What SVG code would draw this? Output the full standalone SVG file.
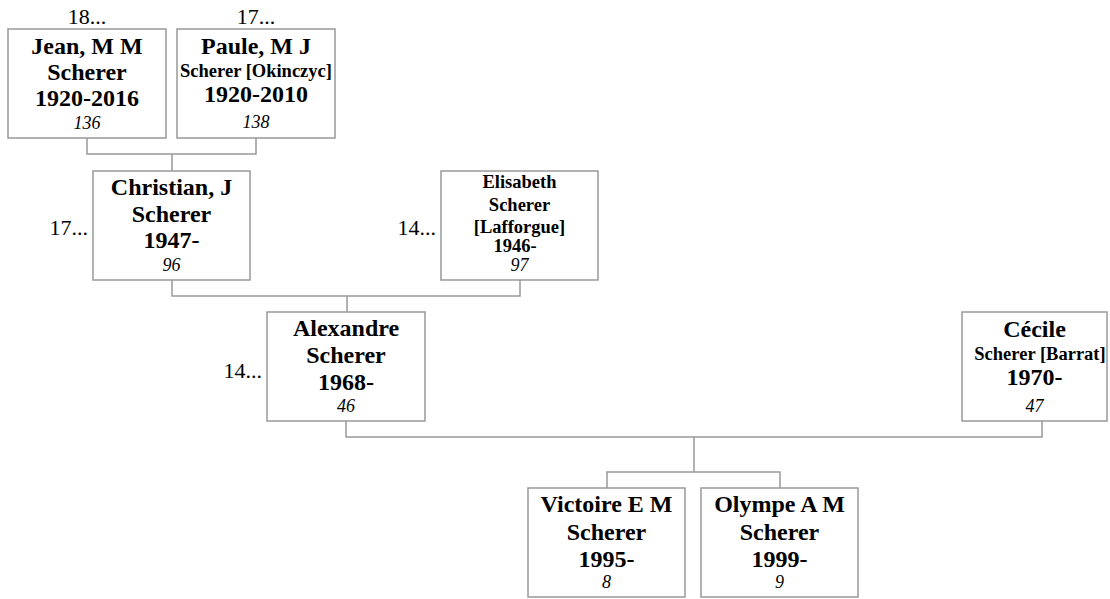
<svg xmlns="http://www.w3.org/2000/svg" width="1110" height="599" viewBox="0 0 1110 599">
<style>
.box{fill:#fff;stroke:#999;stroke-width:1.5}
.n{font-family:"Liberation Serif",serif;font-weight:bold;font-size:24px;text-anchor:middle;fill:#000}
.s{font-size:18.5px}
.e{font-size:18.5px}
.id{font-family:"Liberation Serif",serif;font-style:italic;font-size:18px;text-anchor:middle;fill:#000}
.lab{font-family:"Liberation Serif",serif;font-size:22px;fill:#000}
.c{fill:none;stroke:#999;stroke-width:1.5}
</style>
<rect width="1110" height="599" fill="#fff"/>
<g id="connectors">
<path class="c" d="M87,138V154H256V138M172,154V171"/>
<path class="c" d="M172,280V296H520V280M347,296V312"/>
<path class="c" d="M346,421V437H1042V421M694,437V472M607,488V472H780V488"/>
</g>
<g id="jean">
<rect class="box" x="8" y="29" width="158" height="109"/>
<text class="lab" x="87" y="24" text-anchor="middle">18...</text>
<text class="n" x="87" y="54">Jean, M M</text>
<text class="n" x="87" y="80">Scherer</text>
<text class="n" x="87" y="106">1920-2016</text>
<text class="id" x="87" y="129">136</text>
</g>
<g id="paule">
<rect class="box" x="177" y="29" width="158" height="109"/>
<text class="lab" x="256" y="24" text-anchor="middle">17...</text>
<text class="n" x="256" y="54">Paule, M J</text>
<text class="n s" x="256" y="77">Scherer [Okinczyc]</text>
<text class="n" x="256" y="102">1920-2010</text>
<text class="id" x="256" y="128">138</text>
</g>
<g id="christian">
<rect class="box" x="93" y="171" width="157" height="109"/>
<text class="lab" x="88" y="235" text-anchor="end">17...</text>
<text class="n" x="171.5" y="195">Christian, J</text>
<text class="n" x="171.5" y="222">Scherer</text>
<text class="n" x="171.5" y="248">1947-</text>
<text class="id" x="171.5" y="271">96</text>
</g>
<g id="elisabeth">
<rect class="box" x="441" y="171" width="157" height="109"/>
<text class="lab" x="436" y="235" text-anchor="end">14...</text>
<text class="n e" x="519.5" y="188">Elisabeth</text>
<text class="n e" x="519.5" y="211">Scherer</text>
<text class="n e" x="519.5" y="233">[Lafforgue]</text>
<text class="n e" x="515" y="252">1946-</text>
<text class="id" x="519.5" y="271">97</text>
</g>
<g id="alexandre">
<rect class="box" x="267" y="312" width="158" height="109"/>
<text class="lab" x="262" y="378" text-anchor="end">14...</text>
<text class="n" x="346" y="336">Alexandre</text>
<text class="n" x="346" y="363">Scherer</text>
<text class="n" x="346" y="390">1968-</text>
<text class="id" x="346" y="412">46</text>
</g>
<g id="cecile">
<rect class="box" x="962" y="312" width="145" height="109"/>
<text class="n" x="1034.5" y="337">Cécile</text>
<text class="n e" x="1040" y="360">Scherer [Barrat]</text>
<text class="n" x="1034.5" y="385">1970-</text>
<text class="id" x="1034.5" y="412">47</text>
</g>
<g id="victoire">
<rect class="box" x="528" y="488" width="157" height="109"/>
<text class="n" x="606.5" y="512">Victoire E M</text>
<text class="n" x="606.5" y="540">Scherer</text>
<text class="n" x="606.5" y="567">1995-</text>
<text class="id" x="606.5" y="588">8</text>
</g>
<g id="olympe">
<rect class="box" x="701" y="488" width="157" height="109"/>
<text class="n" x="779.5" y="512">Olympe A M</text>
<text class="n" x="779.5" y="540">Scherer</text>
<text class="n" x="779.5" y="567">1999-</text>
<text class="id" x="779.5" y="588">9</text>
</g>
</svg>
